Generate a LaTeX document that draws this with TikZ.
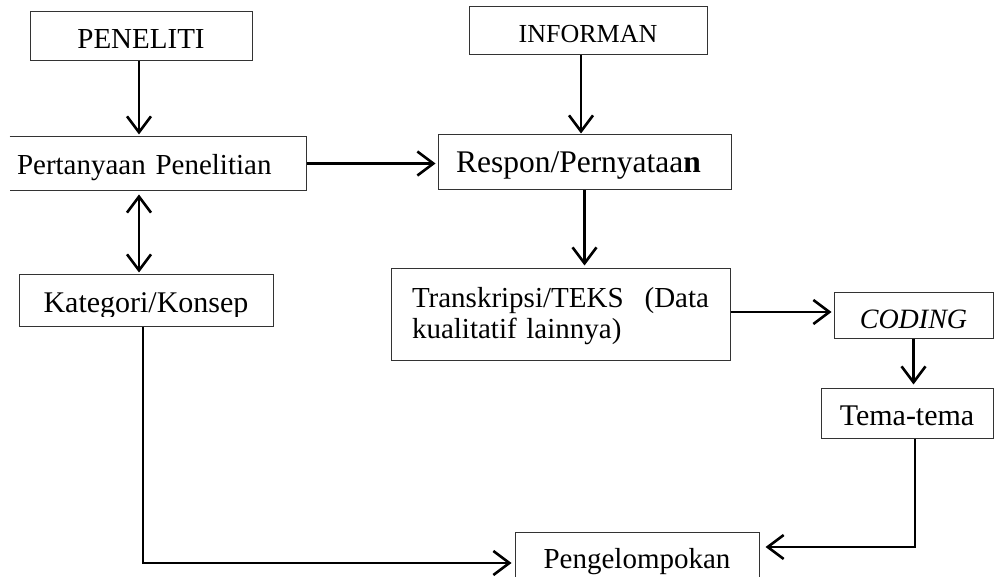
\documentclass[tikz,border=0pt]{standalone}
\usepackage{fontspec}
\setmainfont{Liberation Serif}
\usetikzlibrary{arrows.meta,calc}
\begin{document}
\begin{tikzpicture}[x=1pt,y=-1pt,
  box/.style={draw=black!80,line width=1pt,inner sep=0pt,anchor=center,text depth=0pt},
  arr/.style={line width=2.6pt,-{Straight Barb[length=16pt,width=24pt]}},
  darr/.style={line width=2.6pt,{Straight Barb[length=16pt,width=24pt]}-{Straight Barb[length=16pt,width=24pt]}},
  fs/.style={font=\fontsize{#1}{31}\selectfont}]
\clip (0,0) rectangle (994,577);
\fill[white] (0,0) rectangle (994,577);

\coordinate (cA) at (139,0);
\coordinate (cB) at (581,0);
\coordinate (cE) at (915,0);
\coordinate (rC) at (0,312);
\coordinate (rD) at (0,563);
\coordinate (rF) at (0,547);

% boxes
\node[box,fs=29,minimum width=222pt,minimum height=49pt,text height=25pt] (pen) at (141,36.5) {PENELITI};
\node[box,fs=26,minimum width=238pt,minimum height=48pt,text height=24pt] (inf) at (588,31) {INFORMAN};
\node[box,draw=none,fs=29,minimum width=296pt,minimum height=53pt,text height=23pt,inner xsep=7pt,text width=282pt,align=left] (q) at (158,163.5) {Pertanyaan Penelitian};
\draw[black!80,line width=1pt] (q.north west) -- (q.north east) -- (q.south east) -- (q.south west);
\node[box,fs=31.5,minimum width=293pt,minimum height=55pt,text height=21pt,inner xsep=18pt,text width=257pt,align=left] (resp) at (584.5,162.5) {Respon/Pernyataa\textbf{n}};
\node[box,minimum width=254pt,minimum height=52pt] (kat) at (146,301) {};
\begin{scope}
\clip (19,270) rectangle (273,316.5);
\node[fs=30,anchor=base,inner sep=0pt] (katt) at (146,313) {Kategori/Konsep};
\end{scope}
\node[box,fs=29,minimum width=339pt,minimum height=92pt,text height=21pt,text depth=35pt,inner xsep=21pt,text width=297pt,align=left] (tr) at (560.5,315) {Transkripsi/TEKS\hfill(Data\\kualitatif lainnya)};
\node[box,fs=28,minimum width=159pt,minimum height=46pt,text height=26pt] (cod) at (913.5,316) {\itshape CODING};
\node[box,fs=30,minimum width=172pt,minimum height=49pt,text height=23pt] (tema) at (907,413.5) {Tema-tema};
\node[box,fs=29,minimum width=244pt,minimum height=56pt,text height=16pt] (peng) at (637,560) {Pengelompokan};

% connectors
\draw[arr,shorten >=2pt] (cA |- pen.south) -- (cA |- q.north);
\draw[darr,shorten <=4pt,shorten >=2pt] (cA |- q.south) -- (cA |- kat.north);
\draw[arr,shorten >=2pt] (q.east) -- (resp.west |- q.east);
\draw[arr,shorten >=1pt] (cB |- inf.south) -- (cB |- resp.north);
\draw[arr,shorten >=3pt] (resp.south) -- (resp.south |- tr.north);
\draw[arr,shorten >=2pt] (tr.east |- rC) -- (cod.west |- rC);
\draw[arr,shorten >=4pt] (cod.south) -- (cod.south |- tema.north);
\draw[arr,shorten >=3pt] ([xshift=-3pt]kat.south) |- (peng.west |- rD);
\draw[arr,shorten >=6pt] (cE |- tema.south) |- (peng.east |- rF);
\end{tikzpicture}
\end{document}
